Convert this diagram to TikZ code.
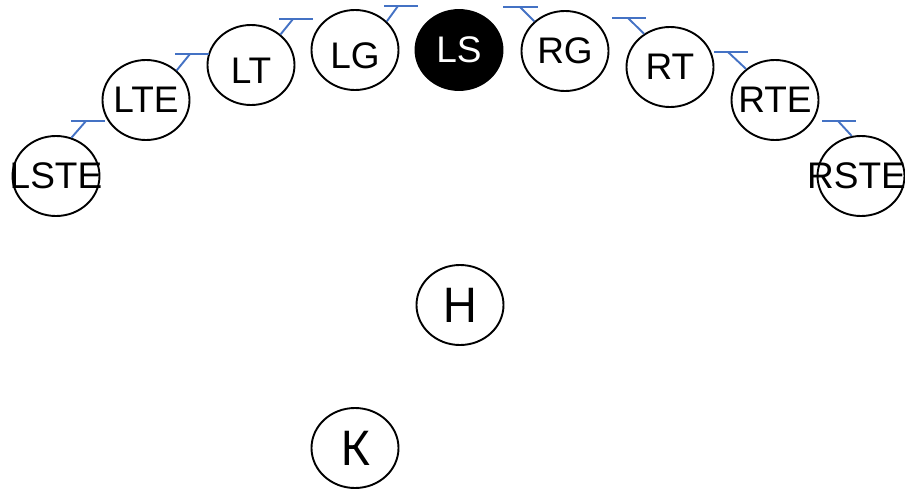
\documentclass[tikz,border=0pt]{standalone}
\usepackage{fontspec}
\setmainfont{Liberation Sans}
\newfontfamily\notof{Noto Sans}
\usetikzlibrary{shapes.geometric}
\definecolor{tblue}{RGB}{68,114,196}
\newcommand{\zw}[1]{\makebox[0pt]{#1}}
\tikzset{
  lblnode/.style={ellipse, draw=black, line width=1.9pt, inner sep=0pt,
    minimum width=87pt, minimum height=80pt,
    font=\fontsize{37}{40}\selectfont},
  lowtext/.style={text height=36pt, text depth=0pt},
  bignode/.style={ellipse, draw=black, line width=1.9pt, inner sep=0pt,
    minimum width=87pt, minimum height=80pt,
    font=\notof\fontsize{48}{52}\selectfont},
  teeline/.style={draw=tblue, line width=1.9pt}
}
\begin{document}
\begin{tikzpicture}[x=1pt,y=-1pt]
\useasboundingbox (0,0) rectangle (905,490);
% nodes
\node[lblnode] (LSTE) at (56,176) {\zw{LSTE}};
\node[lblnode] (LTE) at (146,100) {\zw{LTE}};
\node[lblnode, lowtext] (LT) at (251,65) {\zw{LT}};
\node[lblnode, lowtext] (LG) at (355,50) {\zw{LG}};
\node[lblnode, fill=black, text=white] (LS) at (459,50) {\zw{LS}};
\node[lblnode] (RG) at (565,51) {\zw{RG}};
\node[lblnode] (RT) at (670,67) {\zw{RT}};
\node[lblnode] (RTE) at (775,100) {\zw{RTE}};
\node[lblnode] (RSTE) at (861,176) {\zw{\hspace*{-9pt}RSTE}};
\node[bignode] (H) at (460,305) {Н};
\node[bignode] (K) at (355,448) {К};
% tee ends
\coordinate (t1) at (86,121);
\coordinate (t2) at (190,54);
\coordinate (t3) at (293,19);
\coordinate (t4) at (398,6);
\coordinate (t5) at (520,7);
\coordinate (t6) at (628,18);
\coordinate (t7) at (728,52);
\coordinate (t8) at (838,121);
% connectors
\draw[teeline] (LSTE.68) -- (t1);
\draw[teeline] ([xshift=-15]t1) -- ([xshift=19]t1);
\draw[teeline] (LTE.44) -- (t2);
\draw[teeline] ([xshift=-15]t2) -- ([xshift=19]t2);
\draw[teeline] (LT.46) -- (t3);
\draw[teeline] ([xshift=-14]t3) -- ([xshift=20]t3);
\draw[teeline] (LG.42) -- (t4);
\draw[teeline] ([xshift=-14]t4) -- ([xshift=20]t4);
\draw[teeline] (RG.136) -- (t5);
\draw[teeline] ([xshift=-17]t5) -- ([xshift=18]t5);
\draw[teeline] (RT.128) -- (t6);
\draw[teeline] ([xshift=-16]t6) -- ([xshift=18]t6);
\draw[teeline] (RTE.133) -- (t7);
\draw[teeline] ([xshift=-14]t7) -- ([xshift=20]t7);
\draw[teeline] (RSTE.103) -- (t8);
\draw[teeline] ([xshift=-16]t8) -- ([xshift=18]t8);
\end{tikzpicture}
\end{document}
